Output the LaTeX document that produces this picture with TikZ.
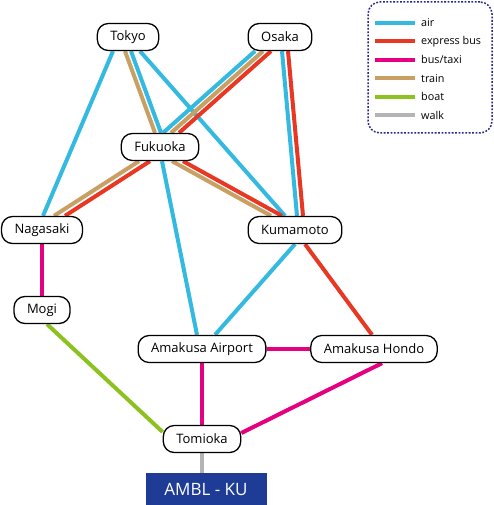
\documentclass[tikz,border=0pt]{standalone}
\usepackage{fontspec}
\setmainfont{Open Sans}
\usetikzlibrary{backgrounds}

\definecolor{aircol}{RGB}{52,186,224}
\definecolor{expresscol}{RGB}{232,56,35}
\definecolor{taxicol}{RGB}{228,0,127}
\definecolor{traincol}{RGB}{200,160,100}
\definecolor{boatcol}{RGB}{140,194,31}
\definecolor{walkcol}{RGB}{180,180,180}
\definecolor{navycol}{RGB}{40,40,140}
\definecolor{amblcol}{RGB}{30,60,150}

\begin{document}
\begin{tikzpicture}[
  x=1pt, y=-1pt,
  place/.style={draw, line width=1.3pt, fill=white, rounded corners=11pt, minimum height=27pt, inner xsep=13pt, font=\fontsize{13}{15}\selectfont},
  ambl/.style={fill=amblcol, text=white, minimum width=121pt, minimum height=32pt, font=\fontsize{17}{19}\selectfont},
  legendbox/.style={draw=navycol, line width=1.5pt, dash pattern=on 1.8pt off 1.6pt, rounded corners=12pt, minimum width=124pt, minimum height=131pt},
  legendtext/.style={font=\fontsize{10.8}{12}\selectfont, inner sep=0pt},
  route/.style={line width=4pt},
  air/.style={route, draw=aircol},
  expressbus/.style={route, draw=expresscol},
  bustaxi/.style={route, draw=taxicol},
  train/.style={route, draw=traincol},
  boat/.style={route, draw=boatcol},
  walk/.style={route, draw=walkcol}
]
  \useasboundingbox (0,0) rectangle (493,505);

  \node[place] (tokyo) at (128,37) {Tokyo};
  \node[place] (osaka) at (280,37) {Osaka};
  \node[place] (fukuoka) at (160,147) {Fukuoka};
  \node[place] (nagasaki) at (42,230) {Nagasaki};
  \node[place] (kumamoto) at (295,230) {Kumamoto};
  \node[place] (mogi) at (42,310) {Mogi};
  \node[place] (airport) at (202,349) {Amakusa Airport};
  \node[place] (hondo) at (374,349) {Amakusa Hondo};
  \node[place] (tomioka) at (202,439) {Tomioka};
  \node[ambl] (amblku) at (206,489) {AMBL - KU};

  \begin{scope}[on background layer]
    % from Tokyo and Osaka
    \draw[air] ([xshift=-15pt]tokyo.south) -- ([xshift=1pt]nagasaki.north);
    \draw[train] ([xshift=-3pt]tokyo.south) -- ([xshift=-5pt]fukuoka.north);
    \draw[air] ([xshift=3pt]tokyo.south) -- ([xshift=1pt]fukuoka.north);
    \draw[air] ([xshift=12pt]tokyo.south) -- ([xshift=-10pt]kumamoto.north);
    \draw[air] ([xshift=-25pt]osaka.south) -- ([xshift=3pt]fukuoka.north);
    \draw[train] ([xshift=-17pt]osaka.south) -- ([xshift=11pt]fukuoka.north);
    \draw[expressbus] ([xshift=-9pt]osaka.south) -- ([xshift=19pt]fukuoka.north);
    \draw[air] ([xshift=2pt]osaka.south) -- ([xshift=2pt]kumamoto.north);
    \draw[expressbus] ([xshift=8pt]osaka.south) -- ([xshift=8pt]kumamoto.north);
    % from Fukuoka and Kumamoto
    \draw[train] ([xshift=-21pt]fukuoka.south) -- ([xshift=12pt]nagasaki.north);
    \draw[expressbus] ([xshift=-10pt]fukuoka.south) -- ([xshift=23pt]nagasaki.north);
    \draw[train] ([xshift=12pt]fukuoka.south) -- ([xshift=-24pt]kumamoto.north);
    \draw[expressbus] ([xshift=23pt]fukuoka.south) -- ([xshift=-13pt]kumamoto.north);
    \draw[air] ([xshift=2pt]fukuoka.south) -- ([xshift=-5pt]airport.north);
    \draw[air] (kumamoto.south) -- ([xshift=13pt]airport.north);
    \draw[expressbus] ([xshift=10pt]kumamoto.south) -- ([xshift=-2pt]hondo.north);
    % Amakusa
    \draw[bustaxi] (nagasaki) -- (mogi);
    \draw[boat] ([xshift=5pt]mogi.south) -- ([yshift=7pt]tomioka.west);
    \draw[bustaxi] (airport) -- (hondo);
    \draw[bustaxi] (airport) -- (tomioka);
    \draw[bustaxi] ([xshift=8pt]hondo.south) -- ([yshift=6pt]tomioka.east);
    \draw[walk] (tomioka) -- (tomioka |- amblku.north);
  \end{scope}

  % legend
  \node[legendbox] (legend) at (430,67.5) {};
  \foreach \kind/\name [count=\i] in {air/air, expressbus/express bus, bustaxi/{bus/taxi}, train/train, boat/boat, walk/walk} {
    \draw[\kind] (375,4.6+18.4*\i) -- (415,4.6+18.4*\i);
    \node[legendtext, anchor=west] (key\i) at (421,4.6+18.4*\i) {\name};
  }
\end{tikzpicture}
\end{document}
